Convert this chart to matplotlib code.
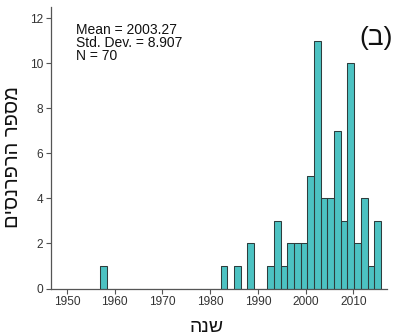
import numpy as np
import matplotlib
matplotlib.use("Agg")
import matplotlib.pyplot as plt

# Histogram of reference publication years (42 equal bins)
bin_start = 1957.0
bin_width = 1.4
counts = [1, 0, 0, 0, 0, 0, 0, 0, 0, 0,
          0, 0, 0, 0, 0, 0, 0, 0, 1, 0,
          1, 0, 2, 0, 0, 1, 3, 1, 2, 2,
          2, 5, 11, 4, 4, 7, 3, 10, 2, 4,
          1, 3]
x_ticks = [1950, 1960, 1970, 1980, 1990, 2000, 2010]
y_ticks = [0, 2, 4, 6, 8, 10, 12]

stats_text = "Mean = 2003.27\nStd. Dev. = 8.907\nN = 70"
x_label = "שנה"
y_label = "מספר הרפרנסים"
panel_label = "(ב)"

fonts = ["Liberation Sans", "DejaVu Sans"]
plt.rcParams["font.family"] = fonts


def visual(s):
    # matplotlib lays text out left-to-right; flip Hebrew into display order
    return s[::-1]


fig = plt.figure(figsize=(3.96, 3.35), dpi=100)
ax = fig.add_axes([0.1288, 0.1388, 0.977 - 0.1288, 0.979 - 0.1388])

edges = bin_start + bin_width * np.arange(len(counts) + 1)
ax.stairs(counts, edges, fill=True, color="#4cc2c2", zorder=2)
# outline each non-empty bar
ax.bar(edges[:-1], counts, width=bin_width, align="edge",
       facecolor="none", edgecolor="#2e3d3d", linewidth=0.75, zorder=3)

ax.set_xlim(1946.65, 2017.06)
ax.set_ylim(0, 12.5)
ax.set_xticks(x_ticks)
ax.set_yticks(y_ticks)

for side in ("top", "right"):
    ax.spines[side].set_visible(False)
for side in ("left", "bottom"):
    ax.spines[side].set_color("#555555")
    ax.spines[side].set_linewidth(0.9)

ax.tick_params(axis="both", direction="out", length=3.5, width=0.8,
               color="#555555", labelsize=8.6, labelcolor="#333333", pad=2)

ax.text(0.075, 0.945, stats_text, transform=ax.transAxes, ha="left", va="top",
        fontsize=10, linespacing=0.95, color="#111111")

ax.set_xlabel(visual(x_label), fontsize=14, color="#111111")
ax.xaxis.set_label_coords(0.464, -0.11)
ax.set_ylabel(visual(y_label), fontsize=14.5, color="#111111")
ax.yaxis.set_label_coords(-0.085, 0.467)

# parentheses mirror in right-to-left text, so this already reads in display order
fig.text(376 / 396, 1 - 38 / 335, panel_label, ha="center",
         va="center", fontsize=19, color="#111111")

fig.savefig("out.png", dpi=100)
